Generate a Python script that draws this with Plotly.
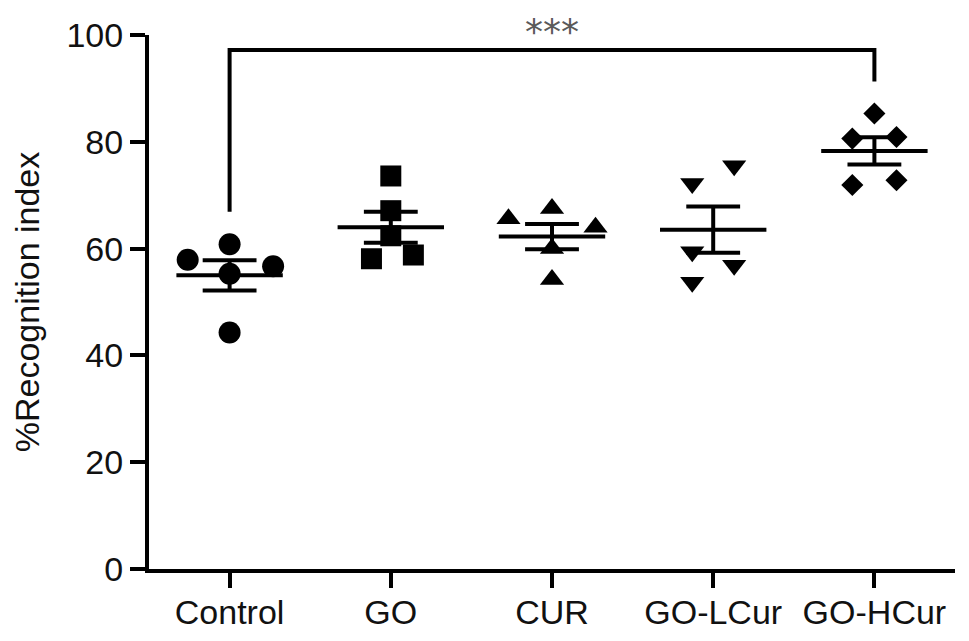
import numpy as np
import plotly.graph_objects as go

categories = ["Control", "GO", "CUR", "GO-LCur", "GO-HCur"]
symbols = ["circle", "square", "triangle-up", "triangle-down", "diamond"]
marker_sizes = [22, 21, 21, 21, 17]

# individual values per group
control_vals = [57.9, 60.8, 55.3, 56.7, 44.3]
go_vals = [73.6, 67.1, 62.4, 58.1, 58.8]
cur_vals = [65.6, 67.5, 64.0, 60.0, 54.2]
golcur_vals = [72.2, 75.5, 59.4, 56.9, 53.7]
gohcur_vals = [85.3, 80.6, 80.9, 71.9, 72.8]

# horizontal scatter offsets (category units)
control_jit = [-0.26, 0.0, 0.0, 0.27, 0.0]
go_jit = [0.0, 0.0, 0.0, -0.12, 0.14]
cur_jit = [-0.27, 0.0, 0.27, 0.0, 0.0]
golcur_jit = [-0.13, 0.13, -0.13, 0.13, -0.13]
gohcur_jit = [0.0, -0.137, 0.137, -0.137, 0.137]

groups = [control_vals, go_vals, cur_vals, golcur_vals, gohcur_vals]
jitters = [control_jit, go_jit, cur_jit, golcur_jit, gohcur_jit]

y_ticks = [0, 20, 40, 60, 80, 100]
y_range = [0, 100]

# significance bracket (Control vs GO-HCur)
bracket_x = [0, 0, 4, 4]
bracket_y = [66.9, 97.2, 97.2, 91.3]
sig_label = "***"
sig_y = 100.7

MEAN_HALF = 0.33
CAP_HALF = 0.167

fig = go.Figure()

mx, my = [], []
for i, vals in enumerate(groups):
    v = np.array(vals)
    m = v.mean()
    sem = v.std(ddof=1) / np.sqrt(len(v))
    mx += [i - MEAN_HALF, i + MEAN_HALF, None]
    my += [m, m, None]
    mx += [i, i, None]
    my += [m - sem, m + sem, None]
    mx += [i - CAP_HALF, i + CAP_HALF, None, i - CAP_HALF, i + CAP_HALF, None]
    my += [m + sem, m + sem, None, m - sem, m - sem, None]

for i, (vals, jit) in enumerate(zip(groups, jitters)):
    fig.add_trace(go.Scatter(
        x=[i + j for j in jit], y=vals, mode="markers",
        marker=dict(symbol=symbols[i], size=marker_sizes[i], color="black",
                    line=dict(width=0)),
        showlegend=False, hoverinfo="skip"))

fig.add_trace(go.Scatter(x=mx, y=my, mode="lines",
                         line=dict(color="black", width=4),
                         showlegend=False, hoverinfo="skip"))

fig.add_trace(go.Scatter(x=bracket_x, y=bracket_y, mode="lines",
                         line=dict(color="black", width=4),
                         showlegend=False, hoverinfo="skip", cliponaxis=False))

fig.add_annotation(x=(bracket_x[0] + bracket_x[-1]) / 2,
                   y=(sig_y - y_range[0]) / (y_range[1] - y_range[0]),
                   xref="x", yref="paper",
                   text=sig_label, showarrow=False, yanchor="middle",
                   font=dict(family="DejaVu Sans", size=36, color="#5a5a5a"))

font = dict(family="Liberation Sans, Arial, sans-serif", size=34, color="#111111")

fig.update_layout(
    width=961, height=633,
    margin=dict(l=141, r=14, t=27, b=72, autoexpand=False),
    plot_bgcolor="white", paper_bgcolor="white",
    font=font,
    xaxis=dict(range=[-0.5, 4.5], tickvals=list(range(len(categories))),
               ticktext=categories, showgrid=False, zeroline=False,
               showline=True, linecolor="black", linewidth=4,
               ticks="outside", ticklen=15, tickwidth=4, tickcolor="black",
               tickfont=font, ticklabelstandoff=-5, automargin=False),
    yaxis=dict(range=y_range, tickvals=y_ticks, showgrid=False, zeroline=False,
               showline=True, linecolor="black", linewidth=4,
               ticks="outside", ticklen=15, tickwidth=4, tickcolor="black",
               tickfont=font, ticklabelstandoff=0, automargin=False,
               title=dict(text="%Recognition index", font=font, standoff=20)),
)

fig.write_html("out.html")
